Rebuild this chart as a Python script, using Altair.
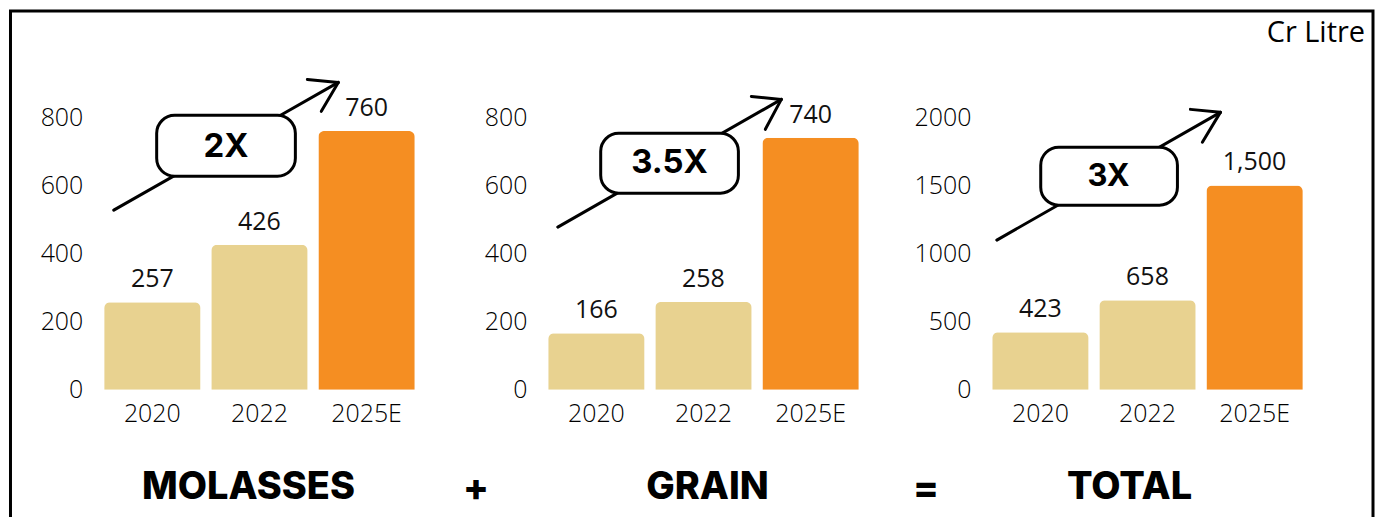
import altair as alt
import pandas as pd

# ---- data ----
YEARS = ["2020", "2022", "2025E"]
MOLASSES = [257, 426, 760]
GRAIN = [166, 258, 740]
TOTAL = [423, 658, 1500]
TITLES = ["MOLASSES", "GRAIN", "TOTAL"]
MULTIPLES = ["2X", "3.5X", "3X"]
OPERATORS = ["+", "="]
UNIT = "Cr Litre"
Y_MAX = [800, 800, 2000]
Y_TICKS = [[0, 200, 400, 600, 800], [0, 200, 400, 600, 800], [0, 500, 1000, 1500, 2000]]

TAN = "#E8D290"
ORANGE = "#F58E22"
W, H = 322, 273

# annotation geometry (pixels relative to each panel's plot area)
ARROWS = [
    dict(start=(15, 93), tip=(240, -35), b1=(209, -38), b2=(223, -6),
         box=(58, -2, 197, 59), txt=(127.5, 30), fs=33),
    dict(start=(15, 110), tip=(239, -18), b1=(209, -21), b2=(223, 12),
         box=(58, 16, 196, 76), txt=(127, 46), fs=33),
    dict(start=(10, 123), tip=(234, -5), b1=(204, -8), b2=(216, 25),
         box=(54, 30, 191, 88), txt=(122, 60), fs=31),
]
TITLE_X = [150, 165, 143]
OP_X = [378, 384]


def one(text=""):
    return alt.Data(values=[{"t": text}])


def rule(p1, p2):
    return alt.Chart(one()).mark_rule(
        stroke="black", strokeWidth=3, strokeCap="round"
    ).encode(x=alt.value(p1[0]), y=alt.value(p1[1]),
             x2=alt.value(p2[0]), y2=alt.value(p2[1]))


def text_layer(s, x, y, size, weight="bold", font="Inter", align="center"):
    return alt.Chart(one(s)).mark_text(
        font=font, fontSize=size, fontWeight=weight, color="black",
        align=align, baseline="middle"
    ).encode(x=alt.value(x), y=alt.value(y), text="t:N")


def panel(i, values):
    df = pd.DataFrame({"year": YEARS, "value": values})
    base = alt.Chart(df).encode(
        x=alt.X("year:N", sort=YEARS,
                scale=alt.Scale(paddingInner=0.1, paddingOuter=0.05),
                axis=alt.Axis(title=None, labelAngle=0, labelPadding=12)),
        y=alt.Y("value:Q", scale=alt.Scale(domain=[0, Y_MAX[i]], nice=False),
                axis=alt.Axis(title=None, values=Y_TICKS[i], format="d", labelPadding=16)),
    )
    bars = base.mark_bar(cornerRadiusTopLeft=6, cornerRadiusTopRight=6).encode(
        color=alt.Color("year:N", scale=alt.Scale(domain=YEARS, range=[TAN, TAN, ORANGE]),
                        legend=None)
    )
    labels = base.mark_text(dy=-15, baseline="alphabetic", font="Open Sans",
                            fontSize=25, color="#111").encode(
        text=alt.Text("value:Q", format=",")
    )
    a = ARROWS[i]
    bx = a["box"]
    box = alt.Chart(one()).mark_rect(
        fill="white", stroke="black", strokeWidth=3, cornerRadius=18
    ).encode(x=alt.value(bx[0]), x2=alt.value(bx[2]), y=alt.value(bx[1]), y2=alt.value(bx[3]))
    layers = [
        bars, labels,
        rule(a["start"], a["tip"]), rule(a["b1"], a["tip"]), rule(a["b2"], a["tip"]),
        box,
        text_layer(MULTIPLES[i], a["txt"][0], a["txt"][1], a["fs"]),
        text_layer(TITLES[i], TITLE_X[i], 371, 38, weight=800),
    ]
    if i < 2:
        layers.append(text_layer(OPERATORS[i], OP_X[i], 373, 38, weight=800))
    if i == 2:
        layers.append(text_layer(UNIT, 379, -85, 29, weight="normal",
                                 font="Open Sans", align="right"))
    if i == 0:
        frame = alt.Chart(one()).mark_rect(
            fill="transparent", stroke="black", strokeWidth=3
        ).encode(x=alt.value(-88.5), x2=alt.value(1277),
                 y=alt.value(-106.5), y2=alt.value(425))
        layers.append(frame)
    return alt.layer(*layers).properties(width=W, height=H)


chart = alt.hconcat(
    panel(0, MOLASSES), panel(1, GRAIN), panel(2, TOTAL),
    spacing=123, bounds="flush"
).properties(padding=0).configure_view(stroke="transparent").configure_axis(
    labelFont="Open Sans", labelFontSize=25, labelFontWeight=300, labelColor="#000",
    domain=False, ticks=False, grid=False
)

chart.save("out.html", embed_options={"renderer": "svg", "actions": False})
